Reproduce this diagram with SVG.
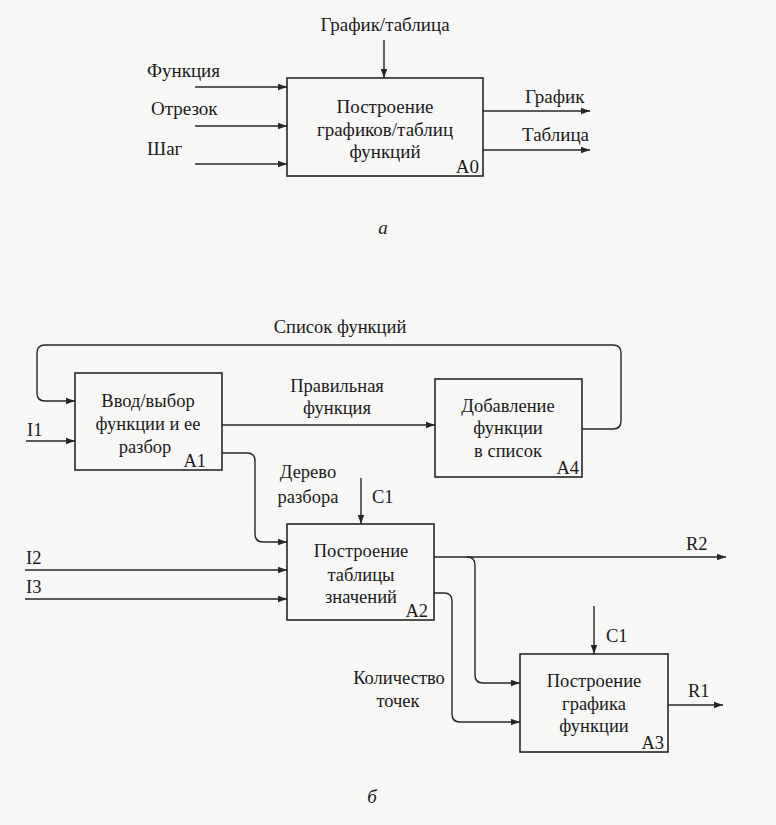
<svg xmlns="http://www.w3.org/2000/svg" width="776" height="825" viewBox="0 0 776 825">
<style>
text{font-family:"Liberation Serif","DejaVu Serif",serif;fill:#1a1a1a}
.t{font-size:19px}
.b{font-size:18.5px}
.c{text-anchor:middle}
.box{fill:none;stroke:#262626;stroke-width:1.6}
.ln{fill:none;stroke:#262626;stroke-width:1.4}
.ar{marker-end:url(#ah)}
</style>
<defs>
<marker id="ah" markerUnits="userSpaceOnUse" markerWidth="10" markerHeight="8" refX="9" refY="4" orient="auto">
<path d="M0,0.8 L9,4 L0,7.2 Z" fill="#262626"/>
</marker>
</defs>
<rect width="776" height="825" fill="#f7f7f5"/>

<g id="connectors">
<path class="ln ar" d="M384,40 V78"/>
<path class="ln ar" d="M195,87 H287"/>
<path class="ln ar" d="M195,126 H287"/>
<path class="ln ar" d="M195,164 H287"/>
<path class="ln ar" d="M483,111 H590"/>
<path class="ln ar" d="M483,150 H590"/>

<path class="ln ar" d="M582,429 H613 Q621,429 621,421 V353 Q621,345 613,345 H45 Q37,345 37,353 V393 Q37,401 45,401 H75"/>
<path class="ln ar" d="M222,425 H435"/>
<path class="ln ar" d="M26,441 H75"/>
<path class="ln ar" d="M222,453 H247 Q255,453 255,461 V534 Q255,542 263,542 H287"/>
<path class="ln ar" d="M361,478 V524"/>
<path class="ln ar" d="M25,570 H287"/>
<path class="ln ar" d="M25,599 H287"/>
<path class="ln ar" d="M434,557 H726"/>
<path class="ln ar" d="M467,557 Q475,557 475,565 V675 Q475,683 483,683 H520"/>
<path class="ln ar" d="M434,593 H444 Q452,593 452,601 V714 Q452,722 460,722 H520"/>
<path class="ln ar" d="M594,606 V654"/>
<path class="ln ar" d="M668,705 H723"/>
</g>

<g id="labels">
<text class="t c" x="385" y="31">График/таблица</text>
<text class="t" x="147" y="77">Функция</text>
<text class="t" x="151" y="115">Отрезок</text>
<text class="t" x="147" y="155">Шаг</text>
<text class="t" x="525" y="103">График</text>
<text class="t" x="522" y="141">Таблица</text>
<text class="t c" x="383" y="234" font-style="italic">а</text>

<text class="b c" x="340" y="333">Список функций</text>
<text class="b c" x="337" y="392">Правильная</text>
<text class="b c" x="337" y="414">функция</text>
<text class="b" x="27" y="436">I1</text>
<text class="b c" x="308" y="478">Дерево</text>
<text class="b c" x="308" y="503">разбора</text>
<text class="b" x="372" y="503">C1</text>
<text class="b" x="26" y="564">I2</text>
<text class="b" x="26" y="593">I3</text>
<text class="b" x="686" y="550">R2</text>
<text class="b" x="606" y="642">C1</text>
<text class="b" x="688" y="697">R1</text>
<text class="b c" x="399" y="684">Количество</text>
<text class="b c" x="398" y="707">точек</text>
<text class="t c" x="372" y="803" font-style="italic">б</text>
</g>

<g id="A0">
<rect class="box" x="287" y="78" width="196" height="98"/>
<text class="t c" x="385" y="113">Построение</text>
<text class="t c" x="385" y="136">графиков/таблиц</text>
<text class="t c" x="385" y="158">функций</text>
<text class="t" x="479" y="173" text-anchor="end">A0</text>
</g>

<g id="A1">
<rect class="box" x="75" y="373" width="147" height="97"/>
<text class="b c" x="148" y="407">Ввод/выбор</text>
<text class="b c" x="148" y="430">функции и ее</text>
<text class="b c" x="145" y="453">разбор</text>
<text class="b" x="206" y="467" text-anchor="end">A1</text>
</g>

<g id="A4">
<rect class="box" x="435" y="379" width="147" height="98"/>
<text class="b c" x="508" y="412">Добавление</text>
<text class="b c" x="508" y="434">функции</text>
<text class="b c" x="508" y="457">в список</text>
<text class="b" x="579" y="474" text-anchor="end">A4</text>
</g>

<g id="A2">
<rect class="box" x="287" y="524" width="147" height="96"/>
<text class="b c" x="361" y="557">Построение</text>
<text class="b c" x="361" y="581">таблицы</text>
<text class="b c" x="361" y="603">значений</text>
<text class="b" x="428" y="617" text-anchor="end">A2</text>
</g>

<g id="A3">
<rect class="box" x="520" y="654" width="148" height="98"/>
<text class="b c" x="594" y="687">Построение</text>
<text class="b c" x="594" y="710">графика</text>
<text class="b c" x="594" y="732">функции</text>
<text class="b" x="664" y="749" text-anchor="end">A3</text>
</g>
</svg>
